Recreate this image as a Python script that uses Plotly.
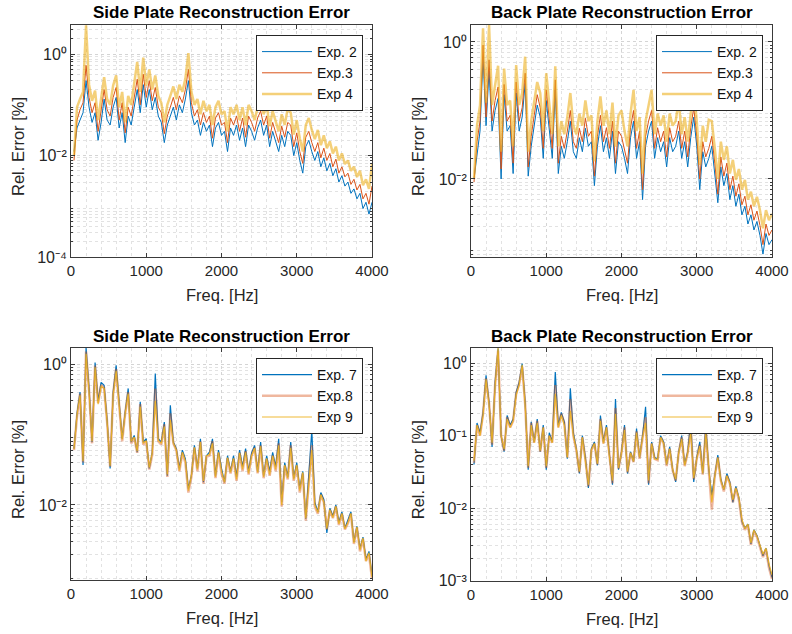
import numpy as np
import plotly.graph_objects as go

# Frequency bins shared by every spectrum [Hz]
freq_hz = np.arange(40, 4001, 40)

# ---- Side plate, experiments 2-4 (relative error in %) ----
side_exp2 = [
    0.012, 0.035, 0.05, 0.07, 0.3, 0.09, 0.045, 0.07, 0.02, 0.045,
    0.13, 0.05, 0.04, 0.09, 0.14, 0.035, 0.07, 0.018, 0.06, 0.04,
    0.09, 0.2, 0.07, 0.25, 0.09, 0.2, 0.08, 0.14, 0.06, 0.045,
    0.018, 0.04, 0.06, 0.09, 0.05, 0.1, 0.07, 0.13, 0.3, 0.07,
    0.04, 0.05, 0.025, 0.045, 0.03, 0.04, 0.015, 0.035, 0.045, 0.025,
    0.03, 0.012, 0.035, 0.025, 0.04, 0.02, 0.035, 0.015, 0.04, 0.03,
    0.02, 0.035, 0.05, 0.025, 0.04, 0.015, 0.03, 0.02, 0.012, 0.025,
    0.015, 0.03, 0.025, 0.01, 0.018, 0.008, 0.0045, 0.015, 0.02, 0.012,
    0.008, 0.012, 0.006, 0.009, 0.005, 0.007, 0.004, 0.0055, 0.003, 0.004,
    0.0025, 0.003, 0.0018, 0.0022, 0.0014, 0.0018, 0.0009, 0.0012, 0.0007, 0.0012,
]
side_exp3 = [
    0.008, 0.05, 0.08, 0.11, 0.6, 0.14, 0.07, 0.11, 0.03, 0.07,
    0.2, 0.08, 0.06, 0.14, 0.22, 0.05, 0.11, 0.028, 0.09, 0.06,
    0.14, 0.32, 0.1, 0.4, 0.14, 0.3, 0.12, 0.22, 0.09, 0.07,
    0.027, 0.06, 0.09, 0.14, 0.08, 0.15, 0.11, 0.2, 0.5, 0.11,
    0.06, 0.08, 0.04, 0.07, 0.045, 0.06, 0.022, 0.055, 0.07, 0.04,
    0.045, 0.018, 0.055, 0.04, 0.06, 0.03, 0.055, 0.023, 0.06, 0.045,
    0.03, 0.055, 0.075, 0.04, 0.06, 0.022, 0.045, 0.03, 0.018, 0.038,
    0.023, 0.045, 0.04, 0.015, 0.028, 0.012, 0.007, 0.023, 0.03, 0.018,
    0.012, 0.018, 0.009, 0.014, 0.008, 0.011, 0.006, 0.0085, 0.0045, 0.006,
    0.0038, 0.0045, 0.0027, 0.0034, 0.0021, 0.0027, 0.0014, 0.0018, 0.0011, 0.0025,
]
side_exp4 = [
    0.01, 0.09, 0.13, 0.18, 3.7, 0.25, 0.12, 0.19, 0.05, 0.12,
    0.35, 0.13, 0.1, 0.24, 0.38, 0.09, 0.18, 0.045, 0.15, 0.1,
    0.24, 0.7, 0.18, 0.85, 0.24, 0.5, 0.2, 0.38, 0.15, 0.11,
    0.045, 0.1, 0.15, 0.23, 0.13, 0.25, 0.18, 0.33, 1.05, 0.18,
    0.1, 0.13, 0.065, 0.12, 0.075, 0.1, 0.04, 0.09, 0.12, 0.065,
    0.075, 0.03, 0.09, 0.065, 0.1, 0.05, 0.09, 0.04, 0.1, 0.075,
    0.05, 0.09, 0.12, 0.065, 0.1, 0.038, 0.075, 0.05, 0.03, 0.065,
    0.04, 0.085, 0.07, 0.026, 0.05, 0.022, 0.012, 0.04, 0.055, 0.032,
    0.021, 0.032, 0.016, 0.025, 0.014, 0.019, 0.011, 0.015, 0.008, 0.011,
    0.0068, 0.008, 0.005, 0.006, 0.0038, 0.005, 0.0026, 0.0034, 0.0022, 0.0068,
]

# ---- Back plate, experiments 2-4 ----
back_exp2 = [
    0.01, 0.025, 0.05, 0.6, 0.06, 0.38, 0.05, 0.1, 0.15, 0.01,
    0.17, 0.05, 0.06, 0.012, 0.18, 0.05, 0.08, 0.25, 0.011, 0.03,
    0.06, 0.12, 0.08, 0.02, 0.14, 0.05, 0.02, 0.2, 0.012, 0.03,
    0.02, 0.035, 0.07, 0.025, 0.02, 0.04, 0.025, 0.055, 0.03, 0.035,
    0.008, 0.03, 0.06, 0.025, 0.04, 0.02, 0.05, 0.012, 0.035, 0.03,
    0.02, 0.012, 0.04, 0.07, 0.02, 0.035, 0.005, 0.03, 0.05, 0.07,
    0.02, 0.04, 0.025, 0.035, 0.015, 0.04, 0.025, 0.03, 0.05, 0.02,
    0.035, 0.015, 0.04, 0.08, 0.03, 0.007, 0.025, 0.015, 0.02, 0.03,
    0.012, 0.0045, 0.015, 0.008, 0.012, 0.005, 0.008, 0.004, 0.006, 0.003,
    0.004, 0.0022, 0.003, 0.0018, 0.0024, 0.0015, 0.0008, 0.0016, 0.0011, 0.0013,
]
back_exp3 = [
    0.009, 0.035, 0.07, 0.9, 0.08, 0.55, 0.07, 0.14, 0.22, 0.014,
    0.24, 0.07, 0.085, 0.017, 0.26, 0.07, 0.11, 0.35, 0.015, 0.042,
    0.085, 0.17, 0.11, 0.028, 0.2, 0.07, 0.028, 0.28, 0.017, 0.042,
    0.028, 0.05, 0.1, 0.035, 0.028, 0.055, 0.035, 0.077, 0.042, 0.05,
    0.011, 0.042, 0.085, 0.035, 0.056, 0.028, 0.07, 0.017, 0.05, 0.042,
    0.028, 0.017, 0.056, 0.1, 0.028, 0.05, 0.007, 0.042, 0.07, 0.1,
    0.028, 0.056, 0.035, 0.05, 0.021, 0.056, 0.035, 0.042, 0.07, 0.028,
    0.05, 0.021, 0.056, 0.11, 0.042, 0.01, 0.035, 0.021, 0.028, 0.042,
    0.017, 0.006, 0.021, 0.011, 0.017, 0.007, 0.011, 0.0056, 0.0085, 0.0042,
    0.0056, 0.003, 0.0042, 0.0025, 0.0034, 0.0021, 0.0011, 0.0022, 0.0015, 0.0018,
]
back_exp4 = [
    0.01, 0.06, 0.12, 1.58, 0.13, 1.77, 0.12, 0.25, 0.45, 0.025,
    0.41, 0.12, 0.14, 0.03, 0.46, 0.12, 0.18, 0.61, 0.025, 0.07,
    0.14, 0.26, 0.18, 0.05, 0.35, 0.11, 0.045, 0.44, 0.03, 0.07,
    0.045, 0.08, 0.18, 0.06, 0.045, 0.09, 0.06, 0.14, 0.07, 0.085,
    0.018, 0.07, 0.16, 0.06, 0.1, 0.045, 0.13, 0.03, 0.085, 0.1,
    0.05, 0.03, 0.09, 0.2, 0.05, 0.08, 0.012, 0.07, 0.12, 0.2,
    0.045, 0.09, 0.06, 0.085, 0.035, 0.09, 0.06, 0.07, 0.14, 0.045,
    0.08, 0.035, 0.09, 0.22, 0.07, 0.016, 0.06, 0.035, 0.073, 0.07,
    0.028, 0.01, 0.035, 0.019, 0.03, 0.012, 0.019, 0.0097, 0.014, 0.007,
    0.0097, 0.005, 0.0065, 0.004, 0.0055, 0.0035, 0.0019, 0.0035, 0.0025, 0.0031,
]

# ---- Side plate, experiments 7-9 ----
side_exp7 = [
    0.063, 0.2, 0.4, 0.037, 1.7, 0.45, 0.078, 1.05, 0.3, 0.55,
    0.5, 0.16, 0.033, 0.4, 0.96, 0.26, 0.087, 0.21, 0.45, 0.078,
    0.097, 0.056, 0.29, 0.078, 0.087, 0.033, 0.056, 0.73, 0.087, 0.078,
    0.15, 0.026, 0.26, 0.078, 0.063, 0.033, 0.06, 0.045, 0.017, 0.026,
    0.07, 0.033, 0.087, 0.021, 0.05, 0.056, 0.087, 0.026, 0.06, 0.033,
    0.021, 0.05, 0.03, 0.05, 0.025, 0.06, 0.035, 0.063, 0.03, 0.055,
    0.07, 0.03, 0.078, 0.026, 0.05, 0.03, 0.056, 0.035, 0.087, 0.011,
    0.04, 0.025, 0.078, 0.024, 0.04, 0.017, 0.03, 0.0064, 0.025, 0.115,
    0.011, 0.008, 0.015, 0.012, 0.004, 0.009, 0.007, 0.01, 0.0057, 0.008,
    0.0047, 0.006, 0.008, 0.003, 0.005, 0.0024, 0.0035, 0.0017, 0.0022, 0.001,
]
side_exp8 = [
    0.06, 0.18, 0.38, 0.04, 1.5, 0.42, 0.075, 0.95, 0.28, 0.5,
    0.46, 0.15, 0.035, 0.37, 0.85, 0.25, 0.08, 0.2, 0.4, 0.075,
    0.09, 0.055, 0.27, 0.072, 0.08, 0.032, 0.052, 0.45, 0.08, 0.072,
    0.14, 0.025, 0.2, 0.075, 0.06, 0.03, 0.055, 0.04, 0.015, 0.025,
    0.065, 0.03, 0.08, 0.02, 0.048, 0.05, 0.08, 0.024, 0.055, 0.028,
    0.02, 0.046, 0.028, 0.045, 0.022, 0.055, 0.03, 0.058, 0.027, 0.05,
    0.065, 0.028, 0.07, 0.024, 0.045, 0.026, 0.05, 0.03, 0.075, 0.0095,
    0.036, 0.023, 0.07, 0.022, 0.036, 0.015, 0.028, 0.006, 0.022, 0.07,
    0.0095, 0.0075, 0.014, 0.011, 0.0045, 0.0085, 0.0065, 0.0095, 0.0052, 0.0075,
    0.0045, 0.0055, 0.0075, 0.0028, 0.0048, 0.0022, 0.0033, 0.0016, 0.002, 0.0009,
]
side_exp9 = [
    0.062, 0.19, 0.36, 0.042, 1.4, 0.4, 0.08, 0.9, 0.27, 0.48,
    0.45, 0.15, 0.036, 0.36, 0.8, 0.24, 0.085, 0.2, 0.38, 0.08,
    0.092, 0.058, 0.25, 0.075, 0.082, 0.034, 0.055, 0.3, 0.082, 0.075,
    0.13, 0.027, 0.16, 0.076, 0.06, 0.031, 0.056, 0.042, 0.016, 0.026,
    0.066, 0.032, 0.078, 0.022, 0.05, 0.052, 0.075, 0.025, 0.056, 0.03,
    0.021, 0.047, 0.029, 0.046, 0.023, 0.055, 0.032, 0.056, 0.028, 0.05,
    0.064, 0.029, 0.068, 0.025, 0.046, 0.027, 0.05, 0.032, 0.07, 0.01,
    0.037, 0.024, 0.065, 0.023, 0.037, 0.016, 0.029, 0.0065, 0.023, 0.06,
    0.01, 0.0078, 0.014, 0.011, 0.0046, 0.0086, 0.0066, 0.0096, 0.0054, 0.0076,
    0.0046, 0.0056, 0.0076, 0.0029, 0.0049, 0.0023, 0.0034, 0.0016, 0.0021, 0.00095,
]

# ---- Back plate, experiments 7-9 ----
back_exp7 = [
    0.04, 0.15, 0.11, 0.21, 0.68, 0.29, 0.07, 0.55, 1.6, 0.1,
    0.06, 0.19, 0.14, 0.17, 0.4, 0.55, 0.99, 0.29, 0.034, 0.155,
    0.082, 0.17, 0.06, 0.14, 0.034, 0.11, 0.082, 0.76, 0.14, 0.21,
    0.155, 0.048, 0.45, 0.11, 0.066, 0.03, 0.1, 0.05, 0.019, 0.066,
    0.082, 0.039, 0.19, 0.082, 0.14, 0.05, 0.021, 0.32, 0.034, 0.06,
    0.14, 0.03, 0.06, 0.044, 0.125, 0.05, 0.1, 0.25, 0.021, 0.082,
    0.05, 0.048, 0.1, 0.082, 0.04, 0.07, 0.034, 0.023, 0.06, 0.1,
    0.04, 0.06, 0.16, 0.023, 0.05, 0.082, 0.03, 0.14, 0.034, 0.015,
    0.03, 0.054, 0.025, 0.018, 0.03, 0.023, 0.012, 0.02, 0.014, 0.0066,
    0.0053, 0.006, 0.0032, 0.005, 0.0042, 0.003, 0.0022, 0.0028, 0.0016, 0.0011,
]
back_exp8 = [
    0.042, 0.14, 0.1, 0.2, 0.62, 0.28, 0.075, 0.5, 1.5, 0.1,
    0.062, 0.18, 0.13, 0.16, 0.38, 0.52, 0.9, 0.27, 0.036, 0.15,
    0.08, 0.16, 0.06, 0.13, 0.036, 0.1, 0.08, 0.5, 0.13, 0.2,
    0.15, 0.05, 0.32, 0.1, 0.063, 0.031, 0.095, 0.048, 0.02, 0.063,
    0.078, 0.04, 0.17, 0.078, 0.13, 0.048, 0.022, 0.24, 0.035, 0.058,
    0.13, 0.031, 0.058, 0.043, 0.115, 0.048, 0.095, 0.18, 0.022, 0.078,
    0.048, 0.046, 0.095, 0.078, 0.038, 0.066, 0.033, 0.024, 0.058, 0.095,
    0.038, 0.058, 0.13, 0.025, 0.048, 0.075, 0.029, 0.12, 0.033, 0.0095,
    0.028, 0.05, 0.024, 0.017, 0.028, 0.022, 0.012, 0.019, 0.013, 0.0065,
    0.005, 0.0058, 0.0031, 0.0048, 0.004, 0.0029, 0.0021, 0.0027, 0.0015, 0.00105,
]
back_exp9 = [
    0.045, 0.14, 0.1, 0.19, 0.6, 0.27, 0.08, 0.48, 1.63, 0.1,
    0.065, 0.17, 0.13, 0.16, 0.36, 0.5, 0.95, 0.26, 0.038, 0.14,
    0.08, 0.15, 0.062, 0.13, 0.038, 0.1, 0.08, 0.38, 0.13, 0.19,
    0.14, 0.05, 0.22, 0.1, 0.064, 0.032, 0.095, 0.048, 0.021, 0.064,
    0.078, 0.041, 0.16, 0.078, 0.13, 0.05, 0.024, 0.2, 0.036, 0.058,
    0.12, 0.032, 0.058, 0.044, 0.11, 0.05, 0.095, 0.15, 0.024, 0.078,
    0.048, 0.047, 0.095, 0.078, 0.04, 0.066, 0.034, 0.025, 0.058, 0.09,
    0.039, 0.058, 0.11, 0.026, 0.048, 0.072, 0.03, 0.11, 0.034, 0.012,
    0.028, 0.05, 0.024, 0.018, 0.028, 0.022, 0.013, 0.019, 0.014, 0.007,
    0.0052, 0.006, 0.0033, 0.005, 0.0041, 0.003, 0.0023, 0.0028, 0.0017, 0.0012,
]

x_ticks = [0, 1000, 2000, 3000, 4000]

W, H = 792, 634
FONT = "Liberation Sans, Arial, Helvetica, sans-serif"
AX = "#3a3a3a"

BLUE = "#0072BD"
ORANGE = "#D95319"

style_top = [
    dict(color=BLUE, width=1),
    dict(color=ORANGE, width=1),
    dict(color="rgba(237,177,32,0.6)", width=2.5),
]
style_bottom = [
    dict(color=BLUE, width=1.2),
    dict(color="rgba(217,83,25,0.42)", width=2.5),
    dict(color="rgba(237,177,32,0.9)", width=1.2),
]

SUP = str.maketrans("-0123456789", "⁻⁰¹²³⁴⁵⁶⁷⁸⁹")


def decade_label(e):
    return "10" + str(e).translate(SUP)


# panel boxes in pixels: (left, right, top, bottom)
panels = [
    dict(title="Side Plate Reconstruction Error",
         series=[("Exp. 2", side_exp2), ("Exp.3", side_exp3), ("Exp 4", side_exp4)],
         style=style_top, box=(71, 372, 25, 257), yr=(-4.0, 0.574), yt=[-4, -2, 0]),
    dict(title="Back Plate Reconstruction Error",
         series=[("Exp. 2", back_exp2), ("Exp.3", back_exp3), ("Exp 4", back_exp4)],
         style=style_top, box=(471, 772, 25, 257), yr=(-3.139, 0.248), yt=[-2, 0]),
    dict(title="Side Plate Reconstruction Error",
         series=[("Exp. 7", side_exp7), ("Exp.8", side_exp8), ("Exp 9", side_exp9)],
         style=style_bottom, box=(71, 372, 348, 580), yr=(-3.064, 0.227), yt=[-2, 0]),
    dict(title="Back Plate Reconstruction Error",
         series=[("Exp. 7", back_exp7), ("Exp.8", back_exp8), ("Exp 9", back_exp9)],
         style=style_bottom, box=(471, 772, 348, 580.5), yr=(-3.0, 0.211), yt=[-3, -2, -1, 0]),
]

fig = go.Figure()
annotations = []
layout = {}

for i, p in enumerate(panels):
    n = i + 1
    sfx = "" if n == 1 else str(n)
    l, r, t, b = p["box"]
    leg = "legend" if n == 1 else f"legend{n}"
    for (name, vals), st in zip(p["series"], p["style"]):
        fig.add_trace(go.Scatter(
            x=freq_hz, y=vals, mode="lines", name=name, line=st,
            xaxis=f"x{sfx}", yaxis=f"y{sfx}", legend=leg,
        ))

    lo, hi = p["yr"]
    minor_y = [k * 10.0 ** d for d in range(-5, 2) for k in range(2, 10)
               if lo <= np.log10(k * 10.0 ** d) <= hi]

    layout[f"xaxis{sfx}"] = dict(
        domain=[l / W, r / W], anchor=f"y{sfx}", range=[0, 4000],
        automargin=False,
        tickvals=x_ticks, ticktext=[str(v) for v in x_ticks],
        ticks="inside", ticklen=4, tickcolor=AX, showline=True, linecolor=AX,
        linewidth=1, mirror="ticks", showgrid=True, gridcolor="#d4d4d4",
        griddash="dot", zeroline=False,
        tickfont=dict(family=FONT, size=15, color="#262626"),
        minor=dict(dtick=200, showgrid=True, gridcolor="#e2e2e2", griddash="dot"),
    )
    layout[f"yaxis{sfx}"] = dict(
        domain=[1 - b / H, 1 - t / H], anchor=f"x{sfx}", type="log",
        range=[lo, hi], automargin=False,
        tickvals=[10.0 ** e for e in p["yt"]],
        ticktext=[decade_label(e) for e in p["yt"]],
        ticks="inside", ticklen=4, tickcolor=AX, showline=True, linecolor=AX,
        linewidth=1, mirror="ticks", showgrid=True, gridcolor="#d4d4d4",
        griddash="dot", zeroline=False,
        tickfont=dict(family=FONT, size=16, color="#262626"),
        minor=dict(tickvals=minor_y, showgrid=True, gridcolor="#e2e2e2",
                   griddash="dot", ticks="inside", ticklen=2, tickcolor=AX),
    )
    layout[leg] = dict(
        x=(r - 9) / W, xanchor="right", y=1 - (t + 10) / H, yanchor="top",
        bgcolor="white", bordercolor="#262626", borderwidth=1,
        font=dict(family=FONT, size=14, color="#111"),
        tracegroupgap=0, itemwidth=50,
    )

    cx = (l + r) / 2 / W
    annotations.append(dict(
        text=f"<b>{p['title']}</b>",
        x=cx, y=1 - (t - 12) / H, xref="paper", yref="paper",
        xanchor="center", yanchor="middle", showarrow=False,
        font=dict(family=FONT, size=17, color="#000"),
    ))
    annotations.append(dict(
        text="Freq. [Hz]", x=cx, y=1 - (b + 38) / H, xref="paper", yref="paper",
        xanchor="center", yanchor="middle", showarrow=False,
        font=dict(family=FONT, size=16.5, color="#262626"),
    ))
    annotations.append(dict(
        text="Rel. Error [%]", x=(l - 53) / W, y=1 - ((t + b) / 2 + 6) / H,
        xref="paper", yref="paper", xanchor="center", yanchor="middle",
        showarrow=False, textangle=-90,
        font=dict(family=FONT, size=16.5, color="#262626"),
    ))

fig.update_layout(
    width=W, height=H, margin=dict(l=0, r=0, t=0, b=0, autoexpand=False),
    paper_bgcolor="white", plot_bgcolor="white",
    annotations=annotations, **layout,
)

fig.write_html("out.html")
